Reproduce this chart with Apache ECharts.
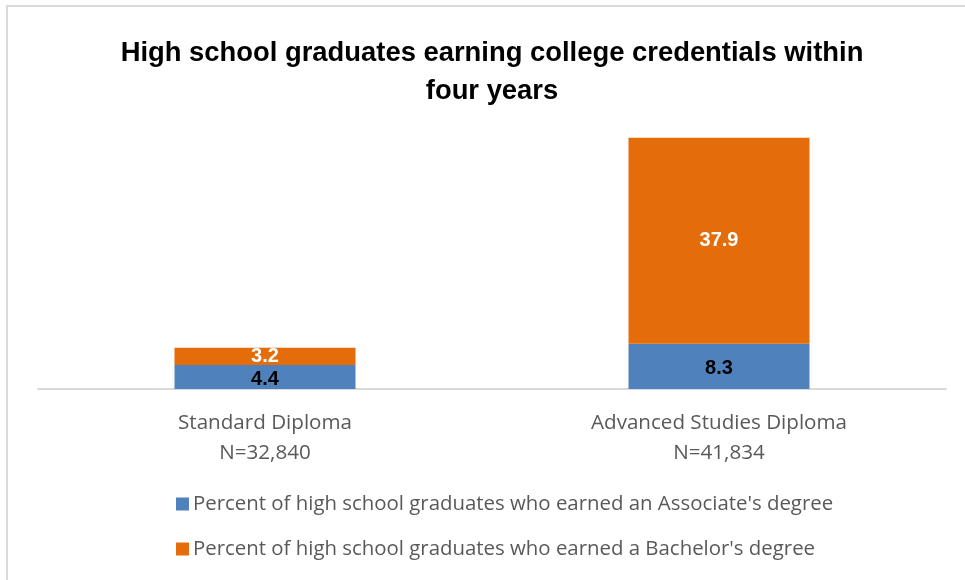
<!DOCTYPE html>
<html>
<head>
<meta charset="utf-8">
<script src="https://cdn.jsdelivr.net/npm/echarts@6/dist/echarts.min.js"></script>
<style>html,body{margin:0;padding:0;background:#fff;}#c{width:965px;height:580px;}</style>
</head>
<body>
<div id="c"></div>
<script>
const categories = ["Standard Diploma\nN=32,840", "Advanced Studies Diploma\nN=41,834"];
const seriesNames = ["Percent of high school graduates who earned an Associate's degree", "Percent of high school graduates who earned a Bachelor's degree"];
const associate = [4.4, 8.3];
const bachelor = [3.2, 37.9];
const titleText = "High school graduates earning college credentials within\nfour years";

const FONT = "'Open Sans', 'Liberation Sans', sans-serif";
const BOLDFONT = "'Liberation Sans', sans-serif";
const chart = echarts.init(document.getElementById('c'), null, {renderer: 'canvas'});
chart.setOption({
  backgroundColor: '#ffffff',
  animation: false,
  title: {
    text: titleText,
    left: 487,
    textAlign: 'center',
    top: 29,
    textStyle: {fontFamily: BOLDFONT, fontWeight: 'bold', fontSize: 27.4, color: '#000', lineHeight: 38}
  },
  graphic: [{
    type: 'rect', shape: {x: 7, y: 6, width: 1000, height: 700},
    style: {fill: 'none', stroke: '#d9d9d9', lineWidth: 2}, silent: true, z: -1
  }],
  legend: {
    orient: 'vertical',
    left: 171,
    top: 489,
    itemWidth: 13, itemHeight: 13,
    itemGap: 25,
    icon: 'rect',
    textStyle: {fontFamily: FONT, fontSize: 20.4, color: '#595959', padding: [0,0,0,-1]},
    data: seriesNames
  },
  grid: {left: 38, right: 19, top: 117, height: 272, containLabel: false},
  xAxis: {
    type: 'category',
    data: categories,
    axisLine: {lineStyle: {color: '#d9d9d9', width: 2}},
    axisTick: {show: false},
    axisLabel: {fontFamily: FONT, fontSize: 20.6, color: '#595959', lineHeight: 30, margin: 19}
  },
  yAxis: {
    type: 'value', min: 0, max: 50, interval: 10,
    show: false,
    splitLine: {show: false}
  },
  series: [
    {
      name: seriesNames[0], type: 'bar', stack: 'a', data: associate, barWidth: 181,
      itemStyle: {color: '#4f81bd'},
      label: {show: true, position: 'inside', offset: [0, 2], fontFamily: BOLDFONT, fontWeight: 'bold', fontSize: 20, color: '#000'}
    },
    {
      name: seriesNames[1], type: 'bar', stack: 'a', data: bachelor, barWidth: 181,
      itemStyle: {color: '#e46c0a'},
      label: {show: true, position: 'inside', fontFamily: BOLDFONT, fontWeight: 'bold', fontSize: 20, color: '#fff'}
    }
  ]
});
</script>
</body>
</html>
